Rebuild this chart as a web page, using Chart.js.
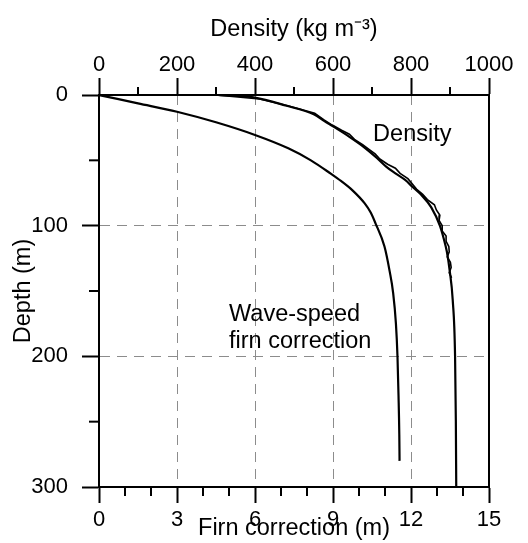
<!DOCTYPE html>
<html>
<head>
<meta charset="utf-8">
<script src="https://cdn.jsdelivr.net/npm/chart.js@4.4.1/dist/chart.umd.min.js"></script>
<style>
  html, body { margin: 0; padding: 0; background: #fff; }
</style>
</head>
<body>
<canvas id="chart" width="528" height="543"></canvas>
<script>
// Wave-speed firn correction (m) against depth (m)
const firnDepth = [0, 6.4, 12.8, 20.9, 30.6, 40.8, 50, 60, 66, 73, 83, 90, 98, 116, 135, 151, 175, 200, 230, 260, 280];
const firnCorr  = [0, 1.5, 3.0, 4.5, 6.0, 7.28, 8.15, 8.9, 9.32, 9.75, 10.22, 10.45, 10.63, 10.98, 11.18, 11.31, 11.42, 11.48, 11.52, 11.55, 11.56];

// Smooth density profile (kg m-3) against depth (m)
const densDepth = [0, 2, 8, 15, 20, 24, 32, 40, 47, 55, 60, 65, 70, 76, 86, 100, 110, 120, 134, 157, 200, 250, 300];
const densFit   = [305, 400, 478, 552, 578, 600, 642, 680, 708, 737, 760, 785, 803, 825, 852, 874, 884, 892, 899, 907, 913, 915, 916];

// Measured density (kg m-3), noisy, down to ~140 m
const measDepth = [0, 3, 8, 14, 19, 23, 27, 30, 34, 38, 42, 45, 49, 53, 56, 60, 64, 68, 72, 76, 80, 84, 88, 92, 96, 100, 104, 108, 112, 116, 120, 124, 128, 132, 136, 140];
const measDens  = [300, 412, 482, 553, 577, 598, 622, 642, 655, 676, 694, 708, 720, 740, 760, 772, 792, 803, 814, 830, 842, 860, 865, 874, 872, 880, 880, 890, 890, 897, 898, 893, 901, 903, 898, 904];

// minor tick values
const bottomMinor = [1, 2, 4, 5, 7, 8, 10, 11, 13, 14];
const topMinor = [100, 300, 500, 700, 900];
const leftMinor = [50, 150, 250];

const FONT = "'Liberation Sans', Arial, Helvetica, sans-serif";

function toPoints(xs, ys) {
    return xs.map((v, i) => ({ x: v, y: ys[i] }));
}

// hide dashed grid on the frame edges
function innerGrid(lo, hi) {
    return ctx => {
        const v = ctx.tick ? ctx.tick.value : null;
        return (v === lo || v === hi) ? 'rgba(0,0,0,0)' : '#8c8c8c';
    };
}

const plainLabel = v => String(v);

const extras = {
    id: 'extras',
    afterDraw(chart) {
        const { ctx, scales, chartArea } = chart;
        ctx.save();
        ctx.strokeStyle = '#000';
        ctx.lineWidth = 2;
        const seg = (x1, y1, x2, y2) => {
            ctx.beginPath();
            ctx.moveTo(x1, y1);
            ctx.lineTo(x2, y2);
            ctx.stroke();
        };
        bottomMinor.forEach(v => {
            const px = scales.x.getPixelForValue(v);
            seg(px, chartArea.bottom, px, chartArea.bottom + 9);
        });
        topMinor.forEach(v => {
            const px = scales.xTop.getPixelForValue(v);
            seg(px, chartArea.top, px, chartArea.top - 8);
        });
        leftMinor.forEach(v => {
            const py = scales.y.getPixelForValue(v);
            seg(chartArea.left, py, chartArea.left - 10, py);
        });

        // curve labels
        ctx.fillStyle = '#000';
        ctx.font = '23.5px ' + FONT;
        ctx.textBaseline = 'alphabetic';
        ctx.textAlign = 'center';
        ctx.fillText('Density', scales.x.getPixelForValue(12.05), scales.y.getPixelForValue(35));
        ctx.textAlign = 'left';
        ctx.fillText('Wave-speed', scales.x.getPixelForValue(5.0), scales.y.getPixelForValue(173));
        ctx.fillText('firn correction', scales.x.getPixelForValue(5.0), scales.y.getPixelForValue(194));
        ctx.restore();
    }
};

const lineStyle = {
    showLine: true,
    borderColor: '#000',
    backgroundColor: '#000',
    pointRadius: 0,
    fill: false
};

new Chart(document.getElementById('chart'), {
    type: 'scatter',
    data: {
        datasets: [
            {
                ...lineStyle,
                label: 'Wave-speed firn correction',
                data: toPoints(firnCorr, firnDepth),
                xAxisID: 'x',
                yAxisID: 'y',
                borderWidth: 2.2,
                cubicInterpolationMode: 'monotone'
            },
            {
                ...lineStyle,
                label: 'Density fit',
                data: toPoints(densFit, densDepth),
                xAxisID: 'xTop',
                yAxisID: 'y',
                borderWidth: 2.2,
                cubicInterpolationMode: 'monotone'
            },
            {
                ...lineStyle,
                label: 'Density measured',
                data: toPoints(measDens, measDepth),
                xAxisID: 'xTop',
                yAxisID: 'y',
                borderWidth: 1.6,
                tension: 0
            }
        ]
    },
    options: {
        responsive: false,
        animation: false,
        layout: { padding: 0 },
        plugins: {
            legend: { display: false },
            tooltip: { enabled: false }
        },
        scales: {
            x: {
                type: 'linear',
                position: 'bottom',
                min: 0,
                max: 15,
                ticks: {
                    stepSize: 3,
                    autoSkip: false,
                    maxRotation: 0,
                    padding: 4,
                    color: '#000',
                    font: { family: FONT, size: 22 },
                    callback: plainLabel
                },
                grid: {
                    color: innerGrid(0, 15),
                    lineWidth: 1,
                    tickColor: '#000',
                    tickWidth: 2,
                    tickLength: 16
                },
                border: { color: '#000', width: 2, dash: [10, 7] },
                title: {
                    display: true,
                    text: 'Firn correction (m)',
                    color: '#000',
                    font: { family: FONT, size: 23.5 },
                    padding: { top: 0, bottom: 0 }
                },
                afterFit: s => { s.height = 56; }
            },
            xTop: {
                type: 'linear',
                position: 'top',
                min: 0,
                max: 1000,
                ticks: {
                    stepSize: 200,
                    autoSkip: false,
                    maxRotation: 0,
                    padding: 0,
                    color: '#000',
                    font: { family: FONT, size: 22 },
                    callback: plainLabel
                },
                grid: {
                    drawOnChartArea: false,
                    tickColor: '#000',
                    tickWidth: 2,
                    tickLength: 17
                },
                border: { color: '#000', width: 2 },
                title: {
                    display: true,
                    text: 'Density (kg m⁻³)',
                    color: '#000',
                    font: { family: FONT, size: 23.5 },
                    padding: { top: 15, bottom: 0 }
                },
                afterFit: s => { s.height = 95; }
            },
            y: {
                type: 'linear',
                position: 'left',
                reverse: true,
                min: 0,
                max: 300,
                ticks: {
                    stepSize: 100,
                    autoSkip: false,
                    padding: 14,
                    color: '#000',
                    font: { family: FONT, size: 22 },
                    callback: plainLabel
                },
                grid: {
                    color: innerGrid(0, 300),
                    lineWidth: 1,
                    tickColor: '#000',
                    tickWidth: 2,
                    tickLength: 17
                },
                border: { color: '#000', width: 2, dash: [10, 7] },
                title: {
                    display: true,
                    text: 'Depth (m)',
                    color: '#000',
                    font: { family: FONT, size: 23.5 },
                    padding: { top: 9, bottom: 0 }
                },
                afterFit: s => { s.width = 99; }
            },
            yRight: {
                type: 'linear',
                position: 'right',
                display: true,
                reverse: true,
                min: 0,
                max: 300,
                ticks: { display: false },
                grid: { drawOnChartArea: false, drawTicks: false },
                border: { color: '#000', width: 2 },
                afterFit: s => { s.width = 39; }
            }
        }
    },
    plugins: [extras]
});
</script>
</body>
</html>
